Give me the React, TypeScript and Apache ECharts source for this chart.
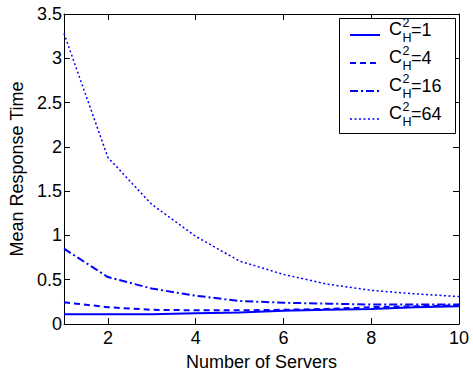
import React, { useEffect, useRef } from "react";
import * as echarts from "echarts";

const servers = [1, 2, 3, 4, 5, 6, 7, 8, 9, 10];
const h1 = [0.11, 0.11, 0.11, 0.12, 0.13, 0.15, 0.16, 0.17, 0.19, 0.2];
const h4 = [0.245, 0.19, 0.16, 0.155, 0.155, 0.16, 0.17, 0.19, 0.2, 0.21];
const h16 = [0.85, 0.53, 0.4, 0.32, 0.26, 0.24, 0.23, 0.22, 0.22, 0.22];
const h64 = [3.28, 1.88, 1.35, 0.99, 0.71, 0.56, 0.45, 0.38, 0.34, 0.31];
const legendValues = ["1", "4", "16", "64"];
const xTicks = [2, 4, 6, 8, 10];

const FONT = "Liberation Sans, Arial, Helvetica, sans-serif";
const BLUE = "#0000ff";

export default function App() {
  const ref = useRef<HTMLDivElement>(null);
  useEffect(() => {
    if (!ref.current) return;
    const chart = echarts.init(ref.current, null, { renderer: "svg" });
    const pair = (ys: number[]) => servers.map((x, i) => [x, ys[i]]);
    const styles = [
      { type: "solid", width: 2 },
      { type: [6, 4], width: 2 },
      { type: [8, 3, 2, 3], width: 2 },
      { type: [2, 2.5], width: 1.5 },
    ];
    const datasets = [h1, h4, h16, h64];
    const series = datasets.map((d, i) => ({
      type: "line",
      data: pair(d),
      symbol: "none",
      lineStyle: { color: BLUE, ...styles[i] },
      xAxisIndex: 0,
      yAxisIndex: 0,
    }));

    const legendEls: any[] = [
      {
        type: "rect",
        shape: { x: 339.5, y: 18.5, width: 116, height: 115 },
        style: { fill: "#fff", stroke: "#000", lineWidth: 1 },
        z: 100,
      },
    ];
    legendValues.forEach((v, i) => {
      const ly = 35 + i * 28;
      legendEls.push({
        type: "line",
        shape: { x1: 350, y1: ly, x2: 380, y2: ly },
        style: { stroke: BLUE, lineWidth: styles[i].width, lineDash: styles[i].type === "solid" ? null : styles[i].type },
        z: 101,
      });
      legendEls.push({
        type: "text",
        x: 389,
        y: ly - 6.5,
        style: { text: "C", fontSize: 18, fontFamily: FONT, fill: "#000", verticalAlign: "middle", align: "left" },
        z: 101,
      });
      legendEls.push({
        type: "text",
        x: 402.5,
        y: ly - 12.5,
        style: { text: "2", fontSize: 12.5, fontFamily: FONT, lineHeight: 11, fill: "#000", verticalAlign: "middle", align: "left" },
        z: 101,
      });
      legendEls.push({
        type: "text",
        x: 402.5,
        y: ly + 3,
        style: { text: "H", fontSize: 12.5, fontFamily: FONT, lineHeight: 11, fill: "#000", verticalAlign: "middle", align: "left" },
        z: 101,
      });
      legendEls.push({
        type: "text",
        x: 411,
        y: ly - 5,
        style: { text: "=" + v, fontSize: 18, fontFamily: FONT, fill: "#000", verticalAlign: "middle", align: "left" },
        z: 101,
      });
    });

    const axisLine = { show: true, onZero: false, lineStyle: { color: "#000", width: 1 } };
    const tick = { show: true, inside: true, length: 6, lineStyle: { color: "#000" } };

    chart.setOption({
      animation: false,
      backgroundColor: "#fff",
      textStyle: { fontFamily: FONT },
      grid: { left: 55, right: 14, top: 14, bottom: 43, containLabel: false },
      xAxis: [
        {
          type: "value",
          min: 1,
          max: 10,
          position: "bottom",
          name: "Number of Servers",
          nameLocation: "middle",
          nameGap: 29,
          nameTextStyle: { fontSize: 18, color: "#000", fontFamily: FONT },
          axisLine,
          axisTick: { ...tick, customValues: xTicks },
          axisLabel: { customValues: xTicks, fontSize: 18, color: "#000", margin: 5, fontFamily: FONT },
          splitLine: { show: false },
        },
        {
          type: "value",
          min: 1,
          max: 10,
          position: "top",
          axisLine,
          axisTick: { ...tick, customValues: xTicks },
          axisLabel: { show: false },
          splitLine: { show: false },
        },
      ],
      yAxis: [
        {
          type: "value",
          min: 0,
          max: 3.5,
          interval: 0.5,
          position: "left",
          name: "Mean Response Time",
          nameLocation: "middle",
          nameGap: 38,
          nameTextStyle: { fontSize: 18, color: "#000", fontFamily: FONT },
          axisLine,
          axisTick: tick,
          axisLabel: { fontSize: 18, color: "#000", margin: 2, fontFamily: FONT },
          splitLine: { show: false },
        },
        {
          type: "value",
          min: 0,
          max: 3.5,
          interval: 0.5,
          position: "right",
          axisLine,
          axisTick: tick,
          axisLabel: { show: false },
          splitLine: { show: false },
        },
      ],
      series,
      graphic: legendEls,
    });
    return () => chart.dispose();
  }, []);
  return (
    <div
      ref={ref}
      style={{ position: "fixed", left: 0, top: 0, width: 473, height: 376, background: "#fff" }}
    />
  );
}
